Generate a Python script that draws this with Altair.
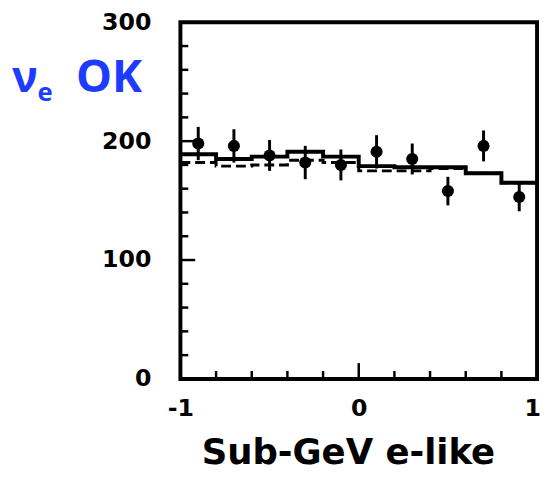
import altair as alt
import pandas as pd

# Data points (bin centers, counts, errors)
centers = [-0.9, -0.7, -0.5, -0.3, -0.1, 0.1, 0.3, 0.5, 0.7, 0.9]
counts = [198, 196, 188, 182, 180, 191, 185, 158, 196, 153]
errors = [14, 14, 13, 14, 13, 14, 13, 12, 13, 12]

# Histogram edges and levels (last level repeated for step-after)
edges = [-1.0, -0.8, -0.6, -0.4, -0.2, 0.0, 0.2, 0.4, 0.6, 0.8, 1.0]
solid_levels = [189, 185, 187, 191, 187, 179, 178, 178, 173, 165]
dashed_levels = [182, 179, 180, 184, 182, 175, 175, 177, 173, 165]

# Tick values
y_major_ticks = [100, 200]
y_minor_ticks = [20, 40, 60, 80, 120, 140, 160, 180, 220, 240, 260, 280]
x_major_ticks = [0.0]
x_minor_ticks = [-0.8, -0.6, -0.4, -0.2, 0.2, 0.4, 0.6, 0.8]
y_labels = [0, 100, 200, 300]
x_labels = [-1, 0, 1]

W, H = 362, 362
BLUE = "#1e3cff"

pts = pd.DataFrame({"x": centers, "y": counts,
                    "lo": [c - e for c, e in zip(counts, errors)],
                    "hi": [c + e for c, e in zip(counts, errors)]})
solid = pd.DataFrame({"x": edges, "y": solid_levels + [solid_levels[-1]]})
dashed = pd.DataFrame({"x": edges, "y": dashed_levels + [dashed_levels[-1]]})

xs = alt.Scale(domain=[-1, 1], nice=False, zero=False)
ys = alt.Scale(domain=[0, 300], nice=False, zero=True)

xaxis = alt.Axis(values=x_labels, title="Sub-GeV e-like", grid=False, ticks=False, tickSize=0,
                 domain=False, labelFlush=False, labelOverlap=False,
                 labelExpr="datum.value < 0 ? '-' + format(-datum.value, 'd') : format(datum.value, 'd')",
                 labelOffset=alt.ConditionalAxisNumber(
                     condition={"test": "datum.value == 1", "value": -5}, value=0),
                 labelFont="DejaVu Sans", labelFontWeight="bold", labelFontSize=24,
                 labelColor="black", labelBaseline="alphabetic", labelPadding=37,
                 titleFont="DejaVu Sans", titleFontWeight="bold", titleFontSize=36,
                 titleColor="black", titleX=170, titleY=86, titleAlign="center",
                 titleBaseline="alphabetic")
yaxis = alt.Axis(values=y_labels, title=None, grid=False, ticks=False, tickSize=0,
                 domain=False, labelFlush=False, labelOverlap=False,
                 labelFont="DejaVu Sans", labelFontWeight="bold", labelFontSize=24,
                 labelColor="black", labelPadding=30)

base_solid = alt.Chart(solid).mark_line(interpolate="step-after", color="black", strokeWidth=4).encode(
    x=alt.X("x:Q", scale=xs, axis=xaxis),
    y=alt.Y("y:Q", scale=ys, axis=yaxis),
)
dash_line = alt.Chart(dashed).mark_line(interpolate="step-after", color="black", strokeWidth=3,
                                        strokeDash=[10, 5]).encode(
    x=alt.X("x:Q", scale=xs), y=alt.Y("y:Q", scale=ys))

err = alt.Chart(pts).mark_rule(color="black", strokeWidth=3).encode(
    x=alt.X("x:Q", scale=xs), y=alt.Y("lo:Q", scale=ys), y2="hi:Q")
dots = alt.Chart(pts).mark_circle(color="black", opacity=1, size=150).encode(
    x=alt.X("x:Q", scale=xs), y=alt.Y("y:Q", scale=ys))

def ydf(v):
    return pd.DataFrame({"v": v})

ymaj = alt.Chart(ydf(y_major_ticks)).mark_rule(color="black", strokeWidth=2.5).encode(
    y=alt.Y("v:Q", scale=ys), x=alt.value(0), x2=alt.value(15))
ymin = alt.Chart(ydf(y_minor_ticks)).mark_rule(color="black", strokeWidth=2.5).encode(
    y=alt.Y("v:Q", scale=ys), x=alt.value(0), x2=alt.value(8))
xmaj = alt.Chart(ydf(x_major_ticks)).mark_rule(color="black", strokeWidth=2.5).encode(
    x=alt.X("v:Q", scale=xs), y=alt.value(H), y2=alt.value(H - 16))
xmin = alt.Chart(ydf(x_minor_ticks)).mark_rule(color="black", strokeWidth=2.5).encode(
    x=alt.X("v:Q", scale=xs), y=alt.value(H), y2=alt.value(H - 8))

one = pd.DataFrame({"a": [0]})
nu = alt.Chart(one).mark_text(font="Open Sans", fontSize=44, fontWeight="bold", color=BLUE,
                              align="left", baseline="alphabetic").encode(
    x=alt.value(-171), y=alt.value(71), text=alt.value("ν"))
sub_e = alt.Chart(one).mark_text(font="Open Sans", fontSize=26, fontWeight="bold", color=BLUE,
                                 align="left", baseline="alphabetic").encode(
    x=alt.value(-145), y=alt.value(80), text=alt.value("e"))
ok = alt.Chart(one).mark_text(font="Open Sans", fontSize=46, fontWeight="bold", color=BLUE,
                              align="left", baseline="alphabetic").encode(
    x=alt.value(-106), y=alt.value(71), text=alt.value("OK"))

chart = alt.layer(base_solid, dash_line, err, dots, ymaj, ymin, xmaj, xmin, nu, sub_e, ok).properties(
    width=W, height=H,
    autosize=alt.AutoSizeParams(type="none"),
    padding={"left": 175, "top": 11, "right": 4, "bottom": 90},
    background="white",
).configure_view(stroke="black", strokeWidth=4)

chart.save("out.html", embed_options={"renderer": "svg", "actions": False})
